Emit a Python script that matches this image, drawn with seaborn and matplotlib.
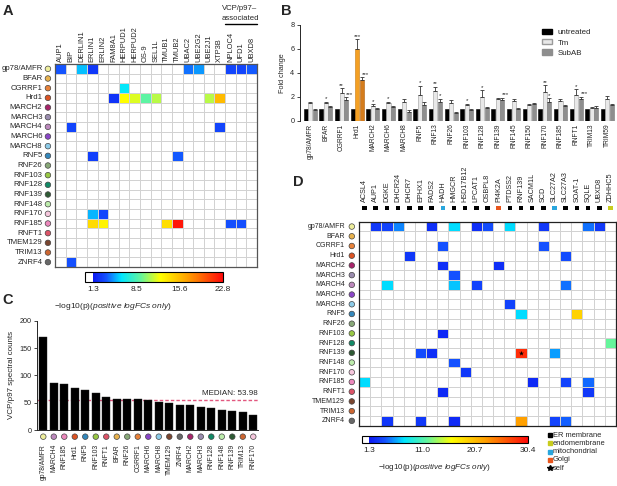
import numpy as np
import pandas as pd
import matplotlib
matplotlib.use("Agg")
import matplotlib.pyplot as plt
import matplotlib.transforms as mtrans
from matplotlib.colors import LinearSegmentedColormap, ListedColormap, Normalize
from matplotlib.cm import ScalarMappable
from matplotlib.patches import Patch
import seaborn as sns

sns.set_style("white")
plt.rcParams["font.family"] = ["Liberation Sans", "DejaVu Sans"]
plt.rcParams["mathtext.fontset"] = "custom"
plt.rcParams["mathtext.rm"] = "Liberation Sans"
plt.rcParams["mathtext.it"] = "Liberation Sans:italic"

W, H = 617, 486

# ---------------- data ----------------
ligases = ["gp78/AMFR", "BFAR", "CGRRF1", "Hrd1", "MARCH2", "MARCH3", "MARCH4",
           "MARCH6", "MARCH8", "RNF5", "RNF26", "RNF103", "RNF128", "RNF139",
           "RNF148", "RNF170", "RNF185", "RNFT1", "TMEM129", "TRIM13", "ZNRF4"]
ligase_colors = ["#eeee9c", "#e8b24e", "#e8823a", "#dc5424", "#a8246a", "#9a8cae",
                 "#bc88bc", "#8a46c8", "#8ccbe8", "#3488bc", "#88a878", "#98c844",
                 "#128a66", "#2e5a34", "#bdecac", "#f5c6dc", "#ec88bc", "#dc5468",
                 "#7a4630", "#cc6632", "#686868"]

a_targets = ["AUP1", "BIP", "DERLIN1", "ERLIN1", "ERLIN2", "FAM8A1", "HERPUD1",
             "HERPUD2", "OS-9", "SEL1L", "TMUB1", "TMUB2", "UBAC2", "UBE2G2",
             "UBE2J1", "XTP3B", "NPLOC4", "UFD1", "UBXD8"]
a_hits = [("gp78/AMFR", "AUP1", 3.5), ("gp78/AMFR", "DERLIN1", 5.4), ("gp78/AMFR", "ERLIN1", 2.5),
          ("gp78/AMFR", "UBAC2", 4.0), ("gp78/AMFR", "UBE2G2", 4.7), ("gp78/AMFR", "NPLOC4", 3.0),
          ("gp78/AMFR", "UFD1", 3.0), ("gp78/AMFR", "UBXD8", 3.6),
          ("CGRRF1", "HERPUD1", 6.2),
          ("Hrd1", "FAM8A1", 2.4), ("Hrd1", "HERPUD1", 12.5), ("Hrd1", "HERPUD2", 11.8),
          ("Hrd1", "OS-9", 9.0), ("Hrd1", "SEL1L", 11.0), ("Hrd1", "UBE2J1", 11.0),
          ("Hrd1", "XTP3B", 15.7),
          ("MARCH4", "BIP", 3.0), ("MARCH4", "XTP3B", 3.0),
          ("RNF5", "ERLIN1", 2.8), ("RNF5", "TMUB2", 3.6),
          ("RNF170", "ERLIN1", 5.2), ("RNF170", "ERLIN2", 3.0),
          ("RNF185", "ERLIN1", 14.2), ("RNF185", "ERLIN2", 13.0), ("RNF185", "TMUB1", 14.0),
          ("RNF185", "TMUB2", 22.2), ("RNF185", "NPLOC4", 3.4), ("RNF185", "UFD1", 3.4),
          ("ZNRF4", "BIP", 3.4)]
a_vmax = 22.8
a_ticks = [1.3, 8.5, 15.6, 22.8]

b_ligases = ["gp78/AMFR", "BFAR", "CGRRF1", "Hrd1", "MARCH2", "MARCH6", "MARCH8", "RNF5",
             "RNF13", "RNF26", "RNF103", "RNF128", "RNF139", "RNF145", "RNF150", "RNF170",
             "RNF185", "RNFT1", "TRIM13", "TRIM59"]
b_untreated = [1.0] * 20
b_tm = [1.45, 1.47, 2.33, 5.94, 1.22, 1.44, 1.53, 2.17, 2.5, 1.5, 1.28, 1.94, 1.78, 1.67,
        1.33, 2.39, 1.64, 2.17, 1.03, 1.83]
b_tm_err = [0.12, 0.1, 0.36, 0.83, 0.15, 0.12, 0.25, 0.72, 0.33, 0.25, 0.1, 0.6, 0.08, 0.17,
            0.08, 0.55, 0.17, 0.45, 0.14, 0.22]
b_subab = [0.9, 1.17, 1.72, 3.39, 0.94, 1.17, 0.75, 1.33, 1.56, 0.67, 0.89, 1.08, 1.72, 1.0,
           1.39, 1.58, 1.22, 1.83, 1.06, 1.28]
b_subab_err = [0.08, 0.06, 0.22, 0.22, 0.12, 0.08, 0.14, 0.2, 0.28, 0.08, 0.08, 0.1, 0.17, 0.06,
               0.08, 0.28, 0.06, 0.17, 0.14, 0.08]
b_tm_sig = ["", "*", "**", "***", "*", "*", "", "*", "**", "", "*", "*", "", "",
            "", "**", "", "*", "", ""]
b_subab_sig = ["", "", "***", "***", "", "", "", "", "*", "", "", "", "***", "",
               "", "*", "", "***", "", ""]
b_treatments = ["untreated", "Tm", "SubAB"]

c_ligases = ["gp78/AMFR", "MARCH4", "RNF185", "Hrd1", "RNF5", "RNF103", "RNFT1", "BFAR",
             "RNF26", "CGRRF1", "MARCH6", "MARCH8", "TMEM129", "ZNRF4", "MARCH2", "MARCH3",
             "RNF128", "RNF148", "RNF139", "TRIM13", "RNF170"]
c_counts = [169.5, 85.4, 85.0, 76.8, 73.0, 67.7, 61.0, 56.7, 56.7, 56.0, 54.0, 51.0, 50.0,
            46.0, 45.0, 42.7, 40.9, 36.0, 34.8, 33.5, 27.4]
c_median = 53.98

d_targets = ["ACSL4", "AUP1", "DGKE", "DHCR24", "DHCR7", "EPHX1", "FADS2", "HADH", "HMGCR",
             "HSD17B12", "LPCAT1", "OSBPL8", "PI4K2A", "PTDSS2", "RNF139", "SACM1L", "SCD",
             "SLC27A2", "SLC27A3", "SOAT-1", "SQLE", "UBXD8", "ZDHHC5"]
d_loc = ["ER", "ER", "ER", "ER", "ER", "ER", "ER", "mito", "ER", "ER", "ER", "ER", "Golgi",
         "ER", "ER", "ER", "ER", "mito", "ER", "ER", "ER", "ER", "endo"]
d_hits = [("gp78/AMFR", "AUP1", 3.0), ("gp78/AMFR", "DGKE", 3.5), ("gp78/AMFR", "DHCR24", 5.5),
          ("gp78/AMFR", "FADS2", 2.5), ("gp78/AMFR", "HMGCR", 7.5), ("gp78/AMFR", "LPCAT1", 2.5),
          ("gp78/AMFR", "OSBPL8", 4.0), ("gp78/AMFR", "PTDSS2", 7.5), ("gp78/AMFR", "SCD", 3.0),
          ("gp78/AMFR", "SQLE", 5.0), ("gp78/AMFR", "UBXD8", 3.0),
          ("CGRRF1", "HADH", 4.2), ("CGRRF1", "SCD", 4.2),
          ("Hrd1", "DHCR7", 3.0), ("Hrd1", "SLC27A3", 4.0),
          ("MARCH2", "HADH", 2.5), ("MARCH2", "PI4K2A", 2.5),
          ("MARCH3", "HMGCR", 4.2),
          ("MARCH4", "DGKE", 7.5), ("MARCH4", "HMGCR", 7.0), ("MARCH4", "LPCAT1", 3.5),
          ("MARCH4", "SLC27A3", 5.0),
          ("MARCH8", "PTDSS2", 3.5),
          ("RNF5", "RNF139", 7.5), ("RNF5", "SOAT-1", 19.3),
          ("RNF103", "HADH", 2.2),
          ("RNF128", "ZDHHC5", 12.0),
          ("RNF139", "EPHX1", 3.8), ("RNF139", "FADS2", 2.5), ("RNF139", "RNF139", 28.5),
          ("RNF139", "SLC27A2", 6.0),
          ("RNF148", "HMGCR", 4.2),
          ("RNF170", "HSD17B12", 3.0),
          ("RNF185", "ACSL4", 7.5), ("RNF185", "SACM1L", 2.3), ("RNF185", "SLC27A3", 3.5),
          ("RNF185", "SQLE", 4.8),
          ("RNFT1", "HADH", 2.3), ("RNFT1", "SQLE", 3.0),
          ("ZNRF4", "DGKE", 2.8), ("ZNRF4", "EPHX1", 3.0), ("ZNRF4", "HMGCR", 2.3),
          ("ZNRF4", "RNF139", 22.5), ("ZNRF4", "SLC27A2", 3.5), ("ZNRF4", "SLC27A3", 4.5)]
d_self = [("RNF139", "RNF139")]
d_vmax = 30.4
d_ticks = [1.3, 11.0, 20.7, 30.4]
loc_colors = {"ER": "black", "endo": "#c8cc1e", "mito": "#2aa6dd", "Golgi": "#e8561e"}
loc_names = [("ER", "ER membrane"), ("endo", "endomembrane"), ("mito", "mitochondrial"),
             ("Golgi", "Golgi")]

# ---------------- helpers ----------------
grad = LinearSegmentedColormap.from_list(
    "g", [(0.0, "#0c18f2"), (0.1, "#1452ff"), (0.22, "#00e6ff"), (0.37, "#66f59a"),
          (0.52, "#ffff00"), (0.73, "#ffa000"), (1.0, "#ff0a0a")])


def make_cmap(vmax, thr=1.3, n=1024):
    vals = np.linspace(0, vmax, n)
    cols = [(1, 1, 1, 1) if v < thr else grad((v - thr) / (vmax - thr)) for v in vals]
    return ListedColormap(cols)


def rect(x0, y0, x1, y1):
    return [x0 / W, 1 - y1 / H, (x1 - x0) / W, (y1 - y0) / H]


def heat(ax, targets, hits, vmax, colfs, rowfs, colpad, rowpad, circ_x, frame):
    df = pd.DataFrame(0.0, index=ligases, columns=targets)
    for r, c, v in hits:
        df.loc[r, c] = v
    sns.heatmap(df, ax=ax, cmap=make_cmap(vmax), vmin=0, vmax=vmax, cbar=False,
                linewidths=0.6, linecolor="#d2d2d2", xticklabels=True, yticklabels=True)
    ax.xaxis.tick_top()
    ax.set_xticklabels(targets, rotation=90, fontsize=colfs)
    ax.set_yticklabels(ligases, rotation=0, fontsize=rowfs)
    ax.tick_params(axis="x", length=0, pad=colpad)
    ax.tick_params(axis="y", length=0, pad=rowpad)
    ax.set_xlabel("")
    ax.set_ylabel("")
    for s in ax.spines.values():
        s.set_visible(True)
        s.set_color(frame)
        s.set_linewidth(0.9)
    tr = mtrans.blended_transform_factory(ax.transAxes, ax.transData)
    ax.scatter([circ_x] * len(ligases), np.arange(len(ligases)) + 0.5, s=16,
               c=ligase_colors, edgecolors="#444444", linewidths=0.5, transform=tr,
               clip_on=False, zorder=5)
    return df


def cbar(cax, vmax, ticks):
    sm = ScalarMappable(norm=Normalize(0, vmax), cmap=make_cmap(vmax))
    cb = fig.colorbar(sm, cax=cax, orientation="horizontal", ticks=ticks)
    cb.set_ticklabels([f"{t:.1f}" for t in ticks])
    cb.ax.tick_params(labelsize=6.0, length=0, pad=3)
    cb.outline.set_linewidth(0.8)
    cb.outline.set_edgecolor("black")


fig = plt.figure(figsize=(W / 100, H / 100), dpi=100)

# ---------------- Panel A ----------------
axA = fig.add_axes(rect(55, 64, 257, 267))
heat(axA, a_targets, a_hits, a_vmax, 5.4, 5.6, 1.5, 9.0, -0.035, "#555555")
caxA = fig.add_axes(rect(85, 272, 223, 282))
cbar(caxA, a_vmax, a_ticks)
fig.text(113 / W, 1 - 306 / H, "\u2212log10(p)$\\mathit{(positive\\ logFCs\\ only)}$",
         ha="center", va="center", fontsize=6.0)
fig.text(240 / W, 1 - 8 / H, "VCP/p97\u2013", ha="center", va="center", fontsize=5.6)
fig.text(240 / W, 1 - 18 / H, "associated", ha="center", va="center", fontsize=5.6)
fig.add_artist(plt.Line2D([225 / W, 257 / W], [1 - 24 / H, 1 - 24 / H], color="black", lw=1))

# ---------------- Panel B ----------------
axB = fig.add_axes(rect(300, 24.7, 616, 120.7))
dfB = pd.DataFrame({"ligase": b_ligases * 3,
                    "treatment": sum([[t] * len(b_ligases) for t in b_treatments], []),
                    "fc": b_untreated + b_tm + b_subab})
b_pal = {"untreated": "black", "Tm": "#e8e8e8", "SubAB": "#8e8e8e"}
sns.barplot(data=dfB, x="ligase", y="fc", hue="treatment", hue_order=b_treatments,
            palette=b_pal, width=0.86, gap=0.1, errorbar=None, legend=False,
            saturation=1, ax=axB)
edge = {"untreated": "black", "Tm": "#9a9a9a", "SubAB": "#7a7a7a"}
for cont, t in zip(axB.containers, b_treatments):
    for p in cont:
        p.set_edgecolor(edge[t])
        p.set_linewidth(0.4)
hrd = b_ligases.index("Hrd1")
axB.containers[1][hrd].set_facecolor("#f4a024")
axB.containers[1][hrd].set_edgecolor("#c87a10")
axB.containers[2][hrd].set_facecolor("#d47c1c")
axB.containers[2][hrd].set_edgecolor("#b06010")
for cont, vals, errs, sigs in [(axB.containers[1], b_tm, b_tm_err, b_tm_sig),
                               (axB.containers[2], b_subab, b_subab_err, b_subab_sig)]:
    xs = [p.get_x() + p.get_width() / 2 for p in cont]
    axB.errorbar(xs, vals, yerr=[np.zeros(len(vals)), errs], fmt="none", ecolor="#333333",
                 elinewidth=0.6, capsize=1.3, capthick=0.6, zorder=3)
    for x, v, e, s in zip(xs, vals, errs, sigs):
        if s:
            dx = 0.22 if s == "***" and cont is axB.containers[2] else 0
            axB.text(x + dx, v + e + 0.05, s, ha="center", va="bottom", fontsize=4.5)
axB.set_ylim(0, 8)
axB.set_xlim(-0.66, 19.55)
axB.set_yticks([0, 2, 4, 6, 8])
axB.tick_params(axis="y", labelsize=5.2, length=2.5, width=0.6, pad=1.5, left=True)
axB.tick_params(axis="x", labelsize=4.8, length=0, pad=2)
axB.set_xticks(range(len(b_ligases)))
axB.set_xticklabels(b_ligases, rotation=90)
axB.set_xlabel("")
axB.set_ylabel("Fold change", fontsize=5.2, labelpad=3)
for k in ["top", "right", "bottom"]:
    axB.spines[k].set_visible(False)
axB.spines["left"].set_linewidth(0.7)
axB.legend(handles=[Patch(fc="black", ec="black"), Patch(fc="#e8e8e8", ec="#9a9a9a"),
                    Patch(fc="#8e8e8e", ec="#8e8e8e")],
           labels=["untreated", "Tm", "SubAB"], loc="upper left",
           bbox_to_anchor=(542 / W, 1 - 29 / H), bbox_transform=fig.transFigure,
           frameon=False, fontsize=5.7, handlelength=1.3, handleheight=0.65,
           handletextpad=0.7, labelspacing=0.35, borderpad=0, borderaxespad=0)

# ---------------- Panel C ----------------
axC = fig.add_axes(rect(37.3, 320.7, 258, 430))
axC.axhline(c_median, color="#e2577f", ls=(0, (2.5, 1.5)), lw=1.0, zorder=0)
sns.barplot(x=c_ligases, y=c_counts, color="black", width=0.78, saturation=1, ax=axC,
            edgecolor="#222222", linewidth=0.3, zorder=2)
axC.set_ylim(0, 200)
axC.set_xlim(-0.57, 20.45)
axC.set_yticks([0, 50, 100, 150, 200])
axC.tick_params(axis="y", labelsize=5.2, length=2.5, width=0.6, pad=1.5, left=True)
axC.tick_params(axis="x", labelsize=4.9, length=0, pad=10)
axC.set_xticks(range(len(c_ligases)))
axC.set_xticklabels(c_ligases, rotation=90)
axC.set_ylabel("VCP/p97 spectral counts", fontsize=5.8, labelpad=3)
for k in ["top", "right"]:
    axC.spines[k].set_visible(False)
axC.spines["left"].set_linewidth(0.7)
axC.spines["bottom"].set_linewidth(0.7)
axC.text(20.45, 60, "MEDIAN: 53.98", ha="right", va="bottom", fontsize=5.8)
trC = mtrans.blended_transform_factory(axC.transData, axC.transAxes)
axC.scatter(np.arange(len(c_ligases)), [-0.061] * len(c_ligases), s=16,
            c=[ligase_colors[ligases.index(l)] for l in c_ligases], edgecolors="#444444",
            linewidths=0.5, transform=trC, clip_on=False, zorder=5)

# ---------------- Panel D ----------------
axD = fig.add_axes(rect(359, 221.7, 616, 425.7))
heat(axD, d_targets, d_hits, d_vmax, 5.2, 5.0, 14.5, 10, -0.028, "#222222")
trD = mtrans.blended_transform_factory(axD.transData, axD.transAxes)
axD.scatter(np.arange(len(d_targets)) + 0.5, [1.067] * len(d_targets), marker="s", s=11,
            c=[loc_colors[l] for l in d_loc], transform=trD, clip_on=False, zorder=5,
            linewidths=0)
for r, c in d_self:
    axD.scatter(d_targets.index(c) + 0.5, ligases.index(r) + 0.5, marker="*", s=14,
                color="black", zorder=6, linewidths=0)
caxD = fig.add_axes(rect(362, 436, 528, 443))
cbar(caxD, d_vmax, d_ticks)
fig.text(434 / W, 1 - 467.5 / H, "\u2212log10(p)$\\mathit{(positive\\ logFCs\\ only)}$",
         ha="center", va="center", fontsize=5.8)
ly = [435, 443.3, 451.5, 459.8, 468.2]
for (key, name), y in zip(loc_names, ly):
    fig.add_artist(plt.Line2D([549.5 / W], [1 - y / H], marker="s", ms=3.3, color=loc_colors[key],
                              ls=""))
    fig.text(553 / W, 1 - y / H, name, ha="left", va="center", fontsize=5.4)
fig.add_artist(plt.Line2D([549.5 / W], [1 - ly[4] / H], marker="*", ms=4.2, color="black", ls=""))
fig.text(553 / W, 1 - ly[4] / H, "self", ha="left", va="center", fontsize=5.4)

# ---------------- panel letters ----------------
for lab, x, y in [("A", 3, 11), ("B", 281, 11), ("C", 2, 300), ("D", 293, 182)]:
    fig.text(x / W, 1 - y / H, lab, fontsize=10.5, fontweight="bold", ha="left", va="center")

fig.savefig("out.png", dpi=100)
